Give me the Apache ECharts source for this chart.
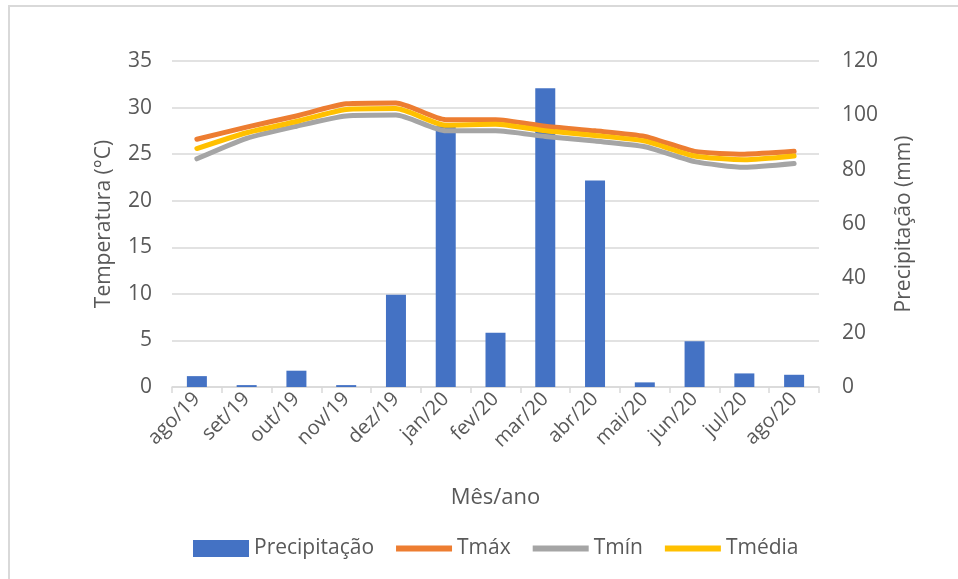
<!DOCTYPE html>
<html>
<head>
<meta charset="utf-8">
<script src="https://cdn.jsdelivr.net/npm/echarts@6/dist/echarts.min.js"></script>
<style>
  html, body { margin: 0; padding: 0; background: #fff; }
  #chart { width: 958px; height: 579px; }
</style>
</head>
<body>
<div id="chart"></div>
<script>
const categories = ['ago/19', 'set/19', 'out/19', 'nov/19', 'dez/19', 'jan/20', 'fev/20',
    'mar/20', 'abr/20', 'mai/20', 'jun/20', 'jul/20', 'ago/20'];
const precipitacao = [4.0, 0.7, 6.0, 0.7, 34, 96, 20, 110, 76, 1.7, 16.8, 5.0, 4.5];
const tmax = [26.6, 27.9, 29.1, 30.4, 30.5, 28.7, 28.7, 28.0, 27.5, 26.9, 25.3, 25.0, 25.3];
const tmin = [24.5, 26.7, 28.0, 29.1, 29.2, 27.5, 27.5, 26.9, 26.4, 25.8, 24.2, 23.6, 24.0];
const tmedia = [25.6, 27.3, 28.5, 29.8, 29.9, 28.1, 28.2, 27.5, 27.0, 26.4, 24.8, 24.4, 24.8];

const font = '"Open Sans", sans-serif';
const textColor = '#595959';
const gridColor = '#D9D9D9';

// flat line icon for the legend; the bare M points keep the box 56x17
const lineIcon = 'path://M0,0 M56,17 M0,5.5 L56,5.5 L56,11.5 L0,11.5 Z';

const lineSeries = (name, data, color) => ({
    name,
    type: 'line',
    yAxisIndex: 0,
    data,
    smooth: 0.2,
    symbol: 'none',
    lineStyle: { color, width: 5, cap: 'round', join: 'round' },
    itemStyle: { color },
});

const chart = echarts.init(document.getElementById('chart'), null, { renderer: 'canvas' });

chart.setOption({
    animation: false,
    backgroundColor: '#fff',
    textStyle: { fontFamily: font },
    graphic: [{
        type: 'rect',
        shape: { x: 9, y: 6, width: 1200, height: 800 },
        style: { fill: 'none', stroke: gridColor, lineWidth: 2 },
        silent: true,
    }],
    grid: { left: 172, right: 139, top: 61, bottom: 192 },
    legend: {
        left: 188,
        top: 533,
        itemWidth: 56,
        itemHeight: 17,
        itemGap: 22,
        textStyle: { color: textColor, fontSize: 21, fontFamily: font },
        data: [
            { name: 'Precipitação', icon: 'rect' },
            { name: 'Tmáx', icon: lineIcon },
            { name: 'Tmín', icon: lineIcon },
            { name: 'Tmédia', icon: lineIcon },
        ],
    },
    xAxis: {
        type: 'category',
        data: categories,
        name: 'Mês/ano',
        nameLocation: 'middle',
        nameGap: 100,
        nameTextStyle: { color: textColor, fontSize: 22, fontFamily: font },
        axisLine: { lineStyle: { color: gridColor, width: 1.5 } },
        axisTick: { show: true, length: 6, lineStyle: { color: gridColor, width: 1.5 } },
        axisLabel: { color: textColor, fontSize: 20, rotate: 45, margin: 9, interval: 0 },
    },
    yAxis: [{
        type: 'value',
        min: 0,
        max: 35,
        interval: 5,
        name: 'Temperatura (°C)',
        nameLocation: 'middle',
        nameGap: 57,
        nameTextStyle: { color: textColor, fontSize: 21, fontFamily: font },
        axisLine: { show: false },
        axisTick: { show: false },
        axisLabel: { color: textColor, fontSize: 21, margin: 20 },
        splitLine: { lineStyle: { color: gridColor, width: 1.5 } },
    }, {
        type: 'value',
        min: 0,
        max: 120,
        interval: 20,
        name: 'Precipitação (mm)',
        nameLocation: 'middle',
        nameGap: 75,
        nameTextStyle: { color: textColor, fontSize: 21, fontFamily: font },
        axisLine: { show: false },
        axisTick: { show: false },
        axisLabel: { color: textColor, fontSize: 21, margin: 23 },
        splitLine: { show: false },
    }],
    series: [
        {
            name: 'Precipitação',
            type: 'bar',
            yAxisIndex: 1,
            data: precipitacao,
            barWidth: 20,
            itemStyle: { color: '#4472C4' },
        },
        lineSeries('Tmáx', tmax, '#ED7D31'),
        lineSeries('Tmín', tmin, '#A5A5A5'),
        lineSeries('Tmédia', tmedia, '#FFC000'),
    ],
});
</script>
</body>
</html>
